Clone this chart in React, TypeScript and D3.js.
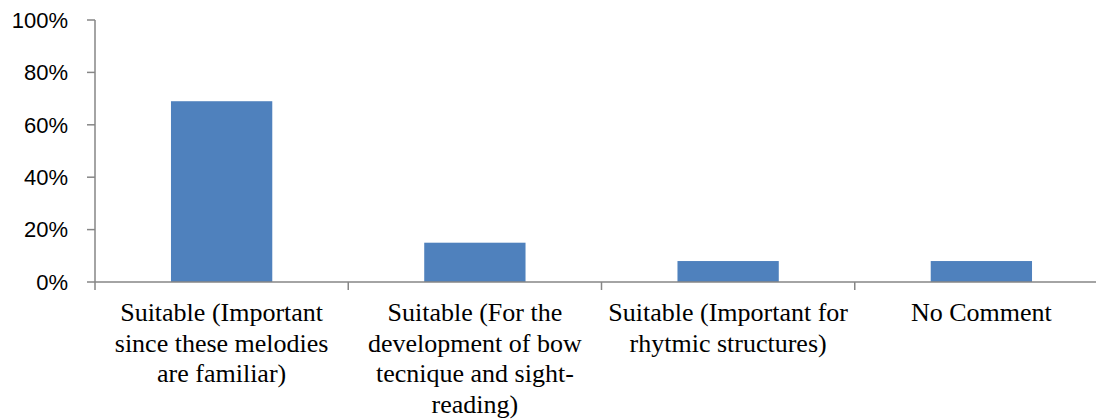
import * as d3 from "d3";

const categories = [
  "Suitable (Important since these melodies are familiar)",
  "Suitable (For the development of bow tecnique and sight-reading)",
  "Suitable (Important for rhytmic structures)",
  "No Comment",
];
// wrapped lines as they appear under each category
const categoryLines = [
  ["Suitable (Important", "since these melodies", "are familiar)"],
  ["Suitable (For the", "development of bow", "tecnique and sight-", "reading)"],
  ["Suitable (Important for", "rhytmic structures)"],
  ["No Comment"],
];
const values = [0.69, 0.15, 0.08, 0.08];
const yTicks = [0, 0.2, 0.4, 0.6, 0.8, 1];

const WIDTH = 1096;
const HEIGHT = 419;
const MARGIN = { top: 20, left: 95, bottom: 137 };
const PLOT_RIGHT = 1108;
const BAR_RATIO = 0.4;
const AXIS_COLOR = "#868686";
const BAR_COLOR = "#4F81BD";

export default function App() {
  const innerHeight = HEIGHT - MARGIN.top - MARGIN.bottom;
  const x = d3.scaleBand<string>().domain(categories).range([MARGIN.left, PLOT_RIGHT]).padding(0);
  const y = d3.scaleLinear().domain([0, 1]).range([MARGIN.top + innerHeight, MARGIN.top]);
  const fmt = d3.format(".0%");
  const bw = x.bandwidth() * BAR_RATIO;
  const y0 = y(0);

  return (
    <svg
      width={WIDTH}
      height={HEIGHT}
      style={{ position: "absolute", left: 0, top: 0, background: "#fff" }}
    >
      {/* bars */}
      {categories.map((c, i) => (
        <rect
          key={c}
          x={(x(c) ?? 0) + (x.bandwidth() - bw) / 2}
          y={y(values[i])}
          width={bw}
          height={y0 - y(values[i])}
          fill={BAR_COLOR}
        />
      ))}

      {/* y axis */}
      <line x1={MARGIN.left} x2={MARGIN.left} y1={y(1)} y2={y0} stroke={AXIS_COLOR} strokeWidth={1.5} />
      {yTicks.map((t) => (
        <g key={t}>
          <line x1={MARGIN.left - 8} x2={MARGIN.left} y1={y(t)} y2={y(t)} stroke={AXIS_COLOR} strokeWidth={1.5} />
          <text
            x={68}
            y={y(t)}
            dy="0.35em"
            textAnchor="end"
            fontFamily="'Liberation Sans', Arial, sans-serif"
            fontSize={22}
            fill="#000"
          >
            {fmt(t)}
          </text>
        </g>
      ))}

      {/* x axis */}
      <line x1={MARGIN.left} x2={PLOT_RIGHT} y1={y0} y2={y0} stroke={AXIS_COLOR} strokeWidth={1.5} />
      {categories.map((c) => (
        <line
          key={"t" + c}
          x1={x(c) ?? 0}
          x2={x(c) ?? 0}
          y1={y0}
          y2={y0 + 8}
          stroke={AXIS_COLOR}
          strokeWidth={1.5}
        />
      ))}
      {categories.map((c, i) => (
        <text
          key={"l" + c}
          x={(x(c) ?? 0) + x.bandwidth() / 2}
          y={y0 + 39}
          textAnchor="middle"
          fontFamily="'Liberation Serif', 'Times New Roman', serif"
          fontSize={26}
          fill="#000"
        >
          {categoryLines[i].map((line, j) => (
            <tspan key={j} x={(x(c) ?? 0) + x.bandwidth() / 2} dy={j === 0 ? 0 : 30.7}>
              {line}
            </tspan>
          ))}
        </text>
      ))}
    </svg>
  );
}
